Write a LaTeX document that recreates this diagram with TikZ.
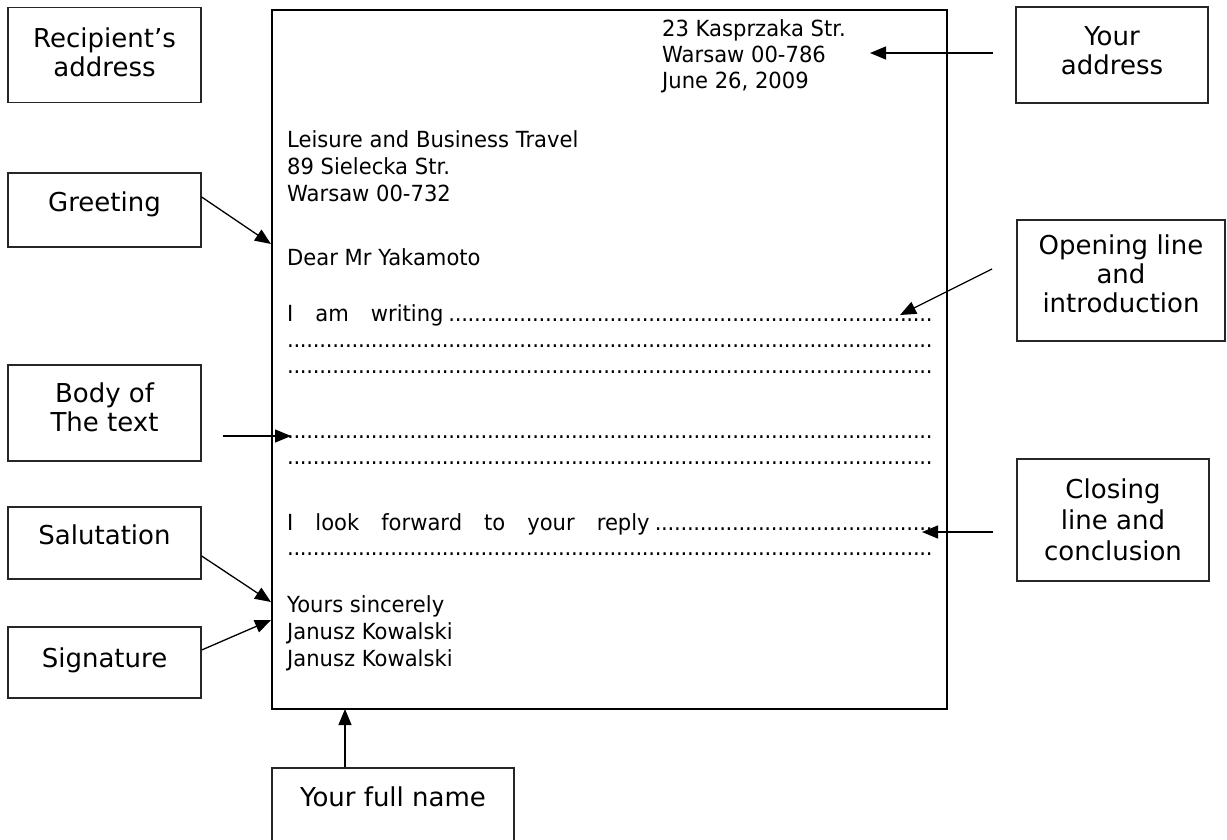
\documentclass[tikz,border=0pt]{standalone}
\usepackage{fontspec}
\setmainfont{DejaVu Sans}
\newfontfamily\letterfont[FakeStretch=0.95]{DejaVu Sans}
\usetikzlibrary{arrows.meta,calc}
\newcommand\dotrow{\leaders\hbox to 6.45pt{\hss.\hss}\hfill}
\tikzset{
  lblbox/.style={draw=black!85, line width=1.3pt, inner sep=0pt},
  lbltxt/.style={inner sep=0pt, align=center, font=\fontsize{26}{29}\selectfont},
  lt/.style={anchor=base west, inner sep=0pt, font=\letterfont\fontsize{22.2}{27}\selectfont},
  arr/.style={line width=1.3pt, -{Triangle[length=16pt,width=13pt]}},
}
\begin{document}
\begin{tikzpicture}[x=1pt,y=-1pt]
\clip (0,0) rectangle (1227,839);
\fill[white] (0,0) rectangle (1227,839);

% letter
\node[draw, line width=2.4pt, minimum width=675pt, minimum height=699pt, inner sep=0pt] (letter) at (609.5,359.5) {};

\node[lt] (a1) at (662,36) {23 Kasprzaka Str.};
\node[lt] (a2) at (662,62) {Warsaw 00-786};
\node[lt] (a3) at (662,88) {June 26, 2009};

\node[lt] (r1) at (287,147) {Leisure and Business Travel};
\node[lt] (r2) at (287,174) {89 Sielecka Str.};
\node[lt] (r3) at (287,201) {Warsaw 00-732};

\node[lt] (dear) at (287,265) {Dear Mr Yakamoto};

\node[lt] (w1) at (287,321) {\hbox to 645pt{I\hspace{22pt}am\hspace{22pt}writing\dotrow}};
\node[lt] (w2) at (287,347) {\hbox to 645pt{\dotrow}};
\node[lt] (w3) at (287,373) {\hbox to 645pt{\dotrow}};
\node[lt] (w4) at (287,438) {\hbox to 645pt{\dotrow}};
\node[lt] (w5) at (287,464) {\hbox to 645pt{\dotrow}};
\node[lt] (w6) at (287,530) {\hbox to 645pt{I\hspace{22pt}look\hspace{22pt}forward\hspace{22pt}to\hspace{22pt}your\hspace{22pt}reply\dotrow}};
\node[lt] (w7) at (287,555) {\hbox to 645pt{\dotrow}};

\node[lt] (y1) at (287,612) {Yours sincerely};
\node[lt] (y2) at (287,639) {Janusz Kowalski};
\node[lt] (y3) at (287,666) {Janusz Kowalski};

% label boxes
\node[lblbox, minimum width=193pt, minimum height=95pt] (rec) at (104.5,55) {};
\node[lbltxt, anchor=north] (rec-t) at ($(rec.north)+(0,21)$) {Recipient’s\\address};

\node[lblbox, minimum width=193pt, minimum height=74pt] (greet) at (104.5,210) {};
\node[lbltxt, anchor=north] (greet-t) at ($(greet.north)+(0,19)$) {Greeting};

\node[lblbox, minimum width=193pt, minimum height=96pt] (body) at (104.5,413) {};
\node[lbltxt, anchor=north] (body-t) at ($(body.north)+(0,18)$) {Body of\\The text};

\node[lblbox, minimum width=193pt, minimum height=72pt] (salut) at (104.5,543) {};
\node[lbltxt, anchor=north] (salut-t) at ($(salut.north)+(0,18)$) {Salutation};

\node[lblbox, minimum width=193pt, minimum height=71pt] (sign) at (104.5,662.5) {};
\node[lbltxt, anchor=north] (sign-t) at ($(sign.north)+(0,21)$) {Signature};

\node[lblbox, minimum width=192pt, minimum height=96pt] (yaddr) at (1112,55) {};
\node[lbltxt, anchor=north] (yaddr-t) at ($(yaddr.north)+(0,20)$) {Your\\address};

\node[lblbox, minimum width=208pt, minimum height=121pt] (open) at (1121,280.5) {};
\node[lbltxt, anchor=north] (open-t) at ($(open.north)+(0,15)$) {Opening line\\and\\introduction};

\node[lblbox, minimum width=192pt, minimum height=122pt] (close) at (1113,520) {};
\node[lbltxt, anchor=north, font=\fontsize{26}{31}\selectfont] (close-t) at ($(close.north)+(0,20)$) {Closing\\line and\\conclusion};

\node[lblbox, minimum width=242pt, minimum height=100pt] (full) at (393,818) {};
\node[lbltxt, anchor=north] (full-t) at ($(full.north)+(0,19)$) {Your full name};

% arrow ends
\coordinate (gtip) at (271,244);
\coordinate (bstart) at (223,436);
\coordinate (btip) at (291,436);
\coordinate (stip) at (271,602);
\coordinate (sgtip) at (271,620);
\coordinate (ystart) at (993,53);
\coordinate (ytip) at (870,53);
\coordinate (ostart) at (992,269);
\coordinate (otip) at (900,315);
\coordinate (cstart) at (993,532);
\coordinate (ctip) at (922,532);
\coordinate (ftip) at (345,709);

\draw[arr] ($(greet.east)+(0,-13)$) -- (gtip);
\draw[arr] (bstart) -- (btip);
\draw[arr] ($(salut.east)+(0,13)$) -- (stip);
\draw[arr] ($(sign.east)+(0,-12.5)$) -- (sgtip);
\draw[arr] (ystart) -- (ytip);
\draw[arr] (ostart) -- (otip);
\draw[arr] (cstart) -- (ctip);
\draw[arr] (full.north -| ftip) -- (ftip);
\end{tikzpicture}
\end{document}
